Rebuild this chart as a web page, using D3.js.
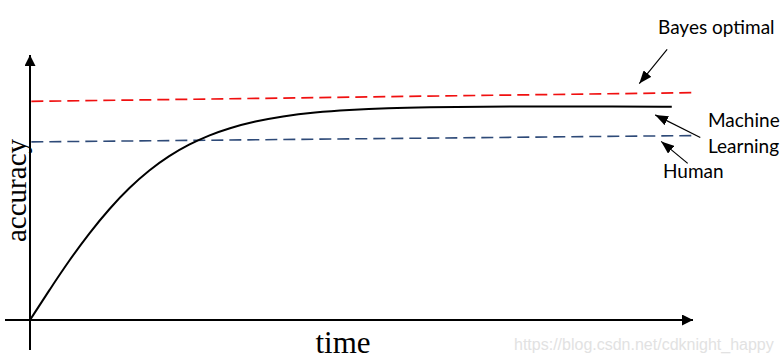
<!DOCTYPE html>
<html>
<head>
<meta charset="utf-8">
<script src="https://cdn.jsdelivr.net/npm/d3@7"></script>
<style>
html,body{margin:0;padding:0;background:#fff;}
svg{display:block;}
</style>
</head>
<body>
<svg id="chart" width="783" height="360"></svg>
<script>
// ---- data ----
const mlTime = [0, 3, 6, 9, 12, 15, 18, 21, 24, 27, 30, 34, 38, 43, 48, 54, 60, 68, 78, 88, 96.8];
const mlAccuracy = [0, 11.6, 22.8, 33.0, 42.1, 50.0, 56.6, 62.0, 66.3, 69.7, 72.4, 75.0, 76.9, 78.4, 79.3, 80.0, 80.3, 80.5, 80.6, 80.6, 80.5];
const bayesTime = [0.2, 100];
const bayesAccuracy = [82.5, 85.8];
const humanTime = [0.2, 100.2];
const humanAccuracy = [67.2, 69.6];
const labels = ["Bayes optimal", "Machine", "Learning", "Human"];
const xLabel = "time";
const yLabel = "accuracy";
const watermark = "https://blog.csdn.net/cdknight_happy";

// annotation arrows in data units: [fromT, fromAcc, tipT, tipAcc]
const arrows = [
  [96.1, 102.1, 91.9, 89.2],
  [101.1, 68.9, 94.3, 77.4],
  [99.2, 59.1, 95.2, 67.4]
];

// ---- scales ----
const svg = d3.select("#chart");
const x = d3.scaleLinear().domain([0, 100]).range([30, 693]);
const y = d3.scaleLinear().domain([0, 100]).range([320, 55]);

const defs = svg.append("defs");
defs.append("marker").attr("id", "axhead")
  .attr("markerUnits", "userSpaceOnUse")
  .attr("viewBox", "0 0 11 11").attr("refX", 11).attr("refY", 5.5)
  .attr("markerWidth", 11).attr("markerHeight", 11).attr("orient", "auto")
  .append("path").attr("d", "M0,0 L11,5.5 L0,11 Z").attr("fill", "#000");
defs.append("marker").attr("id", "annhead")
  .attr("markerUnits", "userSpaceOnUse")
  .attr("viewBox", "0 0 13 10").attr("refX", 13).attr("refY", 5)
  .attr("markerWidth", 13).attr("markerHeight", 10).attr("orient", "auto")
  .append("path").attr("d", "M0,0 L13,5 L0,10 Z").attr("fill", "#000");

// ---- axes ----
svg.append("line")
  .attr("x1", x(-3.77)).attr("y1", y(0)).attr("x2", x(100)).attr("y2", y(0))
  .attr("stroke", "#000").attr("stroke-width", 2).attr("marker-end", "url(#axhead)");
svg.append("line")
  .attr("x1", x(0)).attr("y1", y(-11.3)).attr("x2", x(0)).attr("y2", y(100))
  .attr("stroke", "#000").attr("stroke-width", 2).attr("marker-end", "url(#axhead)");

// ---- reference lines ----
const line = d3.line().x(d => x(d[0])).y(d => y(d[1]));
svg.append("path")
  .attr("d", line(d3.zip(bayesTime, bayesAccuracy)))
  .attr("fill", "none").attr("stroke", "#f01010").attr("stroke-width", 1.7)
  .attr("stroke-dasharray", "12,6");
svg.append("path")
  .attr("d", line(d3.zip(humanTime, humanAccuracy)))
  .attr("fill", "none").attr("stroke", "#2e4a78").attr("stroke-width", 1.6)
  .attr("stroke-dasharray", "12,6");

// ---- ML curve ----
svg.append("path")
  .attr("d", d3.line().x(d => x(d[0])).y(d => y(d[1])).curve(d3.curveBasis)(d3.zip(mlTime, mlAccuracy)))
  .attr("fill", "none").attr("stroke", "#000").attr("stroke-width", 2);

// ---- annotation arrows ----
svg.selectAll("line.ann").data(arrows).join("line").attr("class", "ann")
  .attr("x1", d => x(d[0])).attr("y1", d => y(d[1]))
  .attr("x2", d => x(d[2])).attr("y2", d => y(d[3]))
  .attr("stroke", "#000").attr("stroke-width", 1.2).attr("marker-end", "url(#annhead)");

// ---- annotation texts ----
const labelFont = "Lato, 'Open Sans', sans-serif";
const labelPos = [[658, 34], [708, 127], [708, 153], [663, 178]];
svg.selectAll("text.lab").data(labels).join("text").attr("class", "lab")
  .attr("x", (d, i) => labelPos[i][0]).attr("y", (d, i) => labelPos[i][1])
  .attr("font-family", labelFont).attr("font-size", 19).attr("fill", "#000")
  .text(d => d);

// ---- axis titles ----
svg.append("text")
  .attr("x", 343).attr("y", 353).attr("text-anchor", "middle")
  .attr("font-family", "'Liberation Serif', 'DejaVu Serif', serif").attr("font-size", 31)
  .attr("fill", "#000").text(xLabel);
svg.append("text")
  .attr("transform", "translate(26,190.5) rotate(-90)").attr("text-anchor", "middle")
  .attr("font-family", "'Liberation Serif', 'DejaVu Serif', serif").attr("font-size", 29)
  .attr("fill", "#000").text(yLabel);

// ---- watermark ----
svg.append("text")
  .attr("x", 514).attr("y", 350)
  .attr("font-family", "'Liberation Sans', Arial, sans-serif").attr("font-size", 16)
  .attr("fill", "#e2e2e2").text(watermark);
</script>
</body>
</html>
